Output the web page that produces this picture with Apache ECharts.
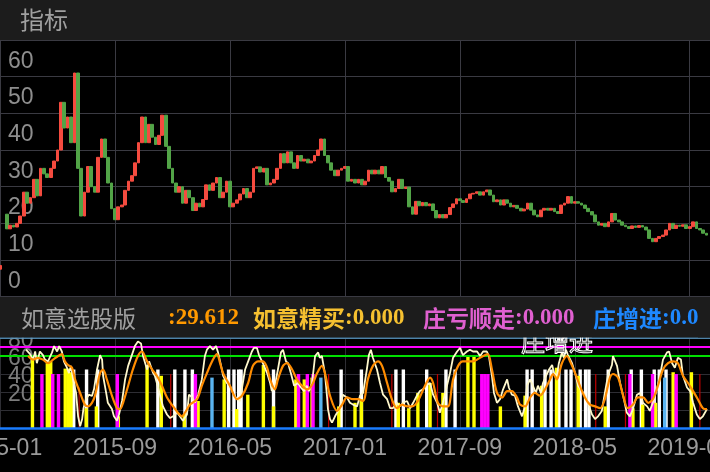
<!DOCTYPE html>
<html><head><meta charset="utf-8">
<script src="https://cdn.jsdelivr.net/npm/echarts@6/dist/echarts.min.js"></script>
<style>html,body{margin:0;padding:0;background:#000;}#c{width:710px;height:472px;}</style>
</head><body><div id="c"></div>
<script>
// ---- data ----
const tickLabels = ['2015-01','2015-09','2016-05','2017-01','2017-09','2018-05','2019-01'];
const tickStep = 34;          // categories between two date labels
const categoryCount = 211;
const earlyCandle = [7.5, 8.5, 7.5, 8.5];
const firstOpen = 22.5;
const startIndex = 2;
const closes = [
 18.5,19.5,19,20,22,28.5,25.5,27,32,27.5,
 35,33.5,32.5,35,37,40,53,46,49,42,
 61,35,22,28.5,35.5,30,28.5,38,43,38,
 31,24,21,24.5,25,29,31.5,33,36.5,42,
 49,42,47,43.5,41.5,44,49.5,41,35,31,
 28.5,30,25.5,29,27,23.5,25.5,24.5,26.5,30.5,
 29,31,32.5,27,28.5,31.5,24.5,25.5,26.4,28,
 29.5,27,28.5,35,35.4,34,35,30.5,31,32,
 35,39,36.5,39.5,36.5,35,38.5,37,37.5,36.5,
 37,38.5,40,43,38.5,36.5,34.5,33,34.5,35,
 35.5,31.5,32,31,32,30.5,31.5,34.5,33.5,34.5,
 33.5,35.5,32.5,31.5,28.6,29.5,32,29.5,29.9,24.5,
 22.5,26,24.8,25.7,24.8,25.3,23.5,21.5,22.4,21.5,
 22.4,24.3,25.3,26.7,26.2,25.7,26.7,28,28.2,28.6,
 27.7,28.6,29.1,27.7,25.9,26.4,25,26.4,25.5,24.5,
 24.9,24.1,23.4,23.9,25.5,23.6,22.3,21.8,23.6,24.1,
 23.6,24.1,23.2,22.7,25,25.5,27.3,25.5,25.9,25.5,
 25,24.1,23.2,22.3,20.4,19.5,20,19.1,20.4,22.7,
 20.9,20.4,19.5,19.1,18.6,19.3,18.9,19.4,19.0,18.2,
 15.9,15,15.9,16.4,16.8,18.2,20,18.6,19.5,19.2,
 19.6,18.6,19.1,20.4,18.6,18.2,17.3,16.8
];
const whiteLine = [[7.7,87],[8.9,82],[9.8,76],[10.4,85],[10.9,72],[11.8,85],[12.7,81],[13.3,76],[14.2,74],[15.4,84],[16,91],[16.9,85],[17.5,91],[18.3,85],[18.9,74],[19.8,67],[20.4,61],[21,69],[21.6,54],[22.5,39],[23.1,13],[23.7,2],[24.3,10],[24.7,22],[25.4,32],[26.3,37],[27.2,35.6],[27.8,43],[28.7,65],[29.6,81],[30.2,76],[30.5,58],[31.4,39],[31.9,28],[33.1,21],[33.7,13],[34.6,8],[35.2,15],[36.1,30],[37,54],[37.9,69],[39,81],[39.9,91],[40.8,96],[41.7,94],[42.3,80],[43.5,65],[44.1,74],[45.3,61],[45.8,58],[46.4,50],[47.3,37],[48.2,24],[49.4,15],[50.3,11],[51.2,13],[52.4,17],[53.2,13],[54.1,8],[55.3,15],[55.9,37],[56.8,34],[57.7,28],[58.6,37],[59.7,54],[60.6,80],[61.2,87],[62.1,91],[63,87],[63.9,91],[64.5,84],[65.4,69],[66,58],[67.1,50],[68,47],[68.9,39],[70.1,32],[71,30],[71.6,45],[72.5,65],[73.4,74],[74.5,85],[75.1,89],[76,89],[76.6,81],[77.5,74],[78.1,69],[79,61],[79.9,50],[80.4,41],[81.3,47],[82.2,65],[83.1,84],[83.7,87],[84.6,74],[85.2,72],[86.1,60],[87,47],[88.1,50],[89,45],[89.9,41],[90.8,47],[91.4,41],[92.3,50],[93.2,80],[94.1,84],[94.6,78],[95.2,80],[96.1,61],[96.7,36],[97,21],[97.6,10],[98.2,6],[99.1,13],[100,19],[100.9,28],[101.4,37],[102.6,34],[103.5,28],[104.4,26],[105.6,24],[106.5,36],[107.4,39],[108.5,65],[109.1,81],[109.7,87],[110.3,78],[111.5,65],[112.4,50],[113.3,37],[114.5,32],[115.4,22],[116.2,22],[117.4,28],[118.3,24],[119.2,28],[120.4,30],[121.3,22],[122.2,28],[123.3,36],[124.2,41],[125.1,43],[126.3,48],[127.2,50],[128.1,37],[129.3,28],[130.1,17],[131,28],[132.2,47],[133.1,61],[134,78],[135.2,85],[136.1,89],[136.9,81],[138.1,85],[139,87],[139.9,85],[141.1,85],[142,80],[142.9,85],[144,85],[144.6,80],[145.5,58],[146.1,39],[147,28],[147.9,32],[148.8,43],[150,54],[150.5,45],[151.4,37],[152.3,36],[153.2,24],[154.4,13],[155.3,24],[155.9,47],[156.8,54],[157.6,47],[158.5,39],[159.1,47],[160,39],[160.6,50],[161.5,58],[162.4,65],[163.3,70],[163.9,61],[164.7,58],[165.3,72],[166.2,84],[166.8,78],[167.4,87],[168,81],[169.2,72],[170.1,61],[171,47],[172.1,41],[173,37],[173.9,28],[175.1,15],[176,10],[176.9,13],[178,19],[178.9,39],[179.8,58],[181,70],[181.3,80],[182.5,69],[183.4,50],[184.3,36],[185.4,17],[186.3,13],[187.2,21],[188.4,37],[189.3,39],[190.2,28],[191.4,24],[192.2,19],[193.1,28],[194.3,43],[195.2,58],[196.1,76],[197.3,84],[197.9,85],[198.8,72],[199.6,67],[200.5,78],[201.4,76],[202,58],[203.2,45],[204.1,41],[205,28],[206.1,15],[207,10],[207.9,13],[209.1,21]];
const orangeLine = [[8.3,80],[9.8,76],[11.2,78],[12.7,76],[14.2,72],[15.7,76],[17.2,80],[18.3,82],[19.2,74],[20.1,70],[21.3,67],[22.2,54],[23.7,39],[25.1,26],[26,24],[27.2,28],[28.1,36],[29.6,61],[30.5,65],[31.6,54],[33.1,36],[34.6,22],[35.5,21],[36.4,28],[37.9,47],[39.3,65],[40.8,80],[42,85],[43.5,74],[45,65],[46.4,58],[47.9,47],[49.4,34],[51.2,24],[52.6,17],[53.8,13],[54.7,17],[56.2,26],[58.3,32],[59.7,47],[61.2,61],[63,76],[64.2,82],[65.1,72],[66,61],[68,47],[70.1,32],[71.6,36],[73.4,50],[74.8,69],[76.3,74],[77.8,74],[79,67],[79.9,54],[81.3,43],[82.2,54],[83.7,69],[84.9,72],[86.4,65],[87.8,54],[89.3,47],[90.8,43],[92.3,48],[93.8,61],[95.2,69],[96.1,61],[97.6,36],[99.7,19],[101.2,26],[102.6,34],[104.4,32],[105.9,32],[107.4,30],[108.8,54],[110.3,69],[111.8,74],[113,69],[114.5,50],[115.9,32],[117.4,22],[118.9,26],[120.4,24],[121.9,24],[123.6,30],[125.7,47],[127.2,56],[128.1,50],[129.5,28],[131,24],[132.5,24],[134,54],[135.5,69],[136.9,74],[138.4,74],[139.9,74],[141.1,76],[142.9,80],[144.3,82],[145.5,65],[147,39],[148.5,34],[150,41],[151.4,41],[152.9,34],[153.8,26],[155.3,24],[156.8,34],[158.2,39],[159.7,36],[161.2,43],[162.7,54],[163.6,60],[164.7,54],[166.2,72],[167.7,80],[168.6,74],[170.1,61],[171.5,47],[173,34],[174.5,26],[176,24],[177.5,22],[178.9,32],[180.4,56],[181.3,60],[182.8,56],[184.3,36],[185.7,22],[187.2,26],[188.7,34],[190.2,34],[191.7,28],[193.1,32],[194.6,47],[196.1,65],[197.6,72],[199.1,74],[200.5,72],[202,58],[203.5,50],[205,41],[206.4,32],[207.9,22],[209.1,21]];
const whiteBars = [[21.8,65],[25.6,65],[28.9,65],[46.7,65],[51.7,65],[54.7,65],[56.9,65],[67.6,65],[69.2,65],[70.6,65],[71.3,65],[80.9,65],[100.9,65],[106.9,65],[117.1,65],[119.3,65],[126.2,65],[131.9,65],[134.6,65],[155.9,65],[157.4,65],[161.2,65],[163,65],[165.3,65],[167.4,65],[168.9,65],[171.6,65],[173.2,65],[174.2,65],[179.9,65],[186.7,65],[189.7,65],[193.5,65],[195,65],[197,65]];
const yellowBars = [[9.6,76],[14,72],[15,74],[19.3,66],[20.2,66],[21,62],[25.5,22],[28.5,24],[35,13],[43.5,70],[47.7,58],[54.5,15],[58.6,30],[66.3,54],[70,21],[73.3,37],[77.9,70],[80.9,24],[87.5,54],[90,54],[92.3,56],[100.2,24],[105,28],[106.9,32],[117.8,28],[120.9,22],[123.6,39],[127.2,50],[131,39],[138.4,81],[140.2,80],[148,24],[155.3,36],[160.2,47],[164.6,67],[171,58],[179,24],[187.2,22],[190.1,26],[193.9,28],[199.1,62],[204.5,62]];
const magentaBars = [[12.4,60],[15.6,60],[17.3,60],[34.7,60],[57.8,60],[88.3,60],[90.9,60],[92.6,60],[142.5,60],[143.4,60],[144.3,60],[186.3,60],[193,60],[200,60]];
const skyBars = [[62.7,56],[94.9,56],[196.6,56]];
const redBars = [[23.4,45],[50.5,60],[97.2,60],[115.9,60],[129.4,60],[176.2,60],[185,60],[207,60]];
const levelLines = {top: 100, magenta: 90, green: 80, base: 0};

// ---- build ----
const categories = [];
for (let i = 0; i < categoryCount; i++) categories.push(i % tickStep === 0 ? tickLabels[i / tickStep] : '');
const candles = [];
for (let i = 0; i < categoryCount; i++) candles.push('-');
candles[0] = earlyCandle;
closes.forEach((c, k) => {
  const o = k === 0 ? firstOpen : closes[k - 1];
  candles[startIndex + k] = [o, c, Math.min(o, c), Math.max(o, c)];
});
const barItems = [];
whiteBars.forEach(d => barItems.push({value: d, itemStyle: {color: '#ffffff'}}));
yellowBars.forEach(d => barItems.push({value: d, itemStyle: {color: '#ffff00'}}));
magentaBars.forEach(d => barItems.push({value: d, itemStyle: {color: '#ff00ff'}}));
skyBars.forEach(d => barItems.push({value: d, itemStyle: {color: '#5ab4f0'}}));

const sans = 'Liberation Sans';
const cjk = "'Noto Sans CJK SC'";
const chart = echarts.init(document.getElementById('c'));
chart.setOption({
  backgroundColor: '#000',
  animation: false,
  grid: [
    {left: 0, right: 0, top: 40, height: 256.7, outerBoundsMode: 'none', containLabel: false},
    {left: 0, right: 0, top: 338, height: 90, outerBoundsMode: 'none', containLabel: false}
  ],
  xAxis: [
    {type: 'category', gridIndex: 0, data: categories, boundaryGap: false,
     axisLine: {show: false}, axisTick: {show: false}, axisLabel: {show: false},
     splitLine: {show: true, interval: (i) => i % tickStep === 0, lineStyle: {color: '#3a3a42', width: 1}}},
    {type: 'value', gridIndex: 1, min: 0, max: categoryCount - 1, interval: tickStep,
     axisLine: {show: false}, axisTick: {show: false},
     splitLine: {show: true, lineStyle: {color: '#2e2e34', width: 1}},
     axisLabel: {color: '#9a9a9a', fontSize: 23, fontFamily: sans, margin: 9, hideOverlap: false,
       formatter: v => (v % tickStep === 0 ? tickLabels[v / tickStep] : '')}},
    {type: 'value', gridIndex: 1, min: 0, max: categoryCount - 1, show: false}
  ],
  yAxis: [
    {type: 'value', gridIndex: 0, min: 0, max: 70, interval: 10,
     axisLine: {show: false}, axisTick: {show: false},
     splitLine: {lineStyle: {color: '#3a3a42', width: 1}},
     axisLabel: {inside: true, margin: 8, color: '#8e8e8e', fontSize: 23, fontFamily: sans,
       verticalAlign: 'bottom', padding: [0, 0, 4, 0], showMaxLabel: false}},
    {type: 'value', gridIndex: 1, min: 0, max: 100, interval: 20,
     axisLine: {show: false}, axisTick: {show: false},
     splitLine: {lineStyle: {color: '#2e2e34', width: 1}},
     axisLabel: {inside: true, margin: 8, color: '#7c7c7c', fontSize: 23, fontFamily: sans,
       verticalAlign: 'bottom', padding: [0, 0, 4, 0], showMaxLabel: false, showMinLabel: false}}
  ],
  series: [
    {type: 'candlestick', xAxisIndex: 0, yAxisIndex: 0, data: candles, barWidth: 3.2,
     itemStyle: {color: '#f54b3f', color0: '#52a447', borderColor: '#f54b3f', borderColor0: '#52a447', borderWidth: 1}},
    {type: 'bar', xAxisIndex: 1, yAxisIndex: 1, data: barItems, barWidth: 3.4, z: 3},
    {type: 'bar', xAxisIndex: 2, yAxisIndex: 1, data: redBars, barWidth: 1.2, itemStyle: {color: '#c00000'}, z: 3},
    {type: 'line', xAxisIndex: 1, yAxisIndex: 1, data: whiteLine, symbol: 'none', z: 5,
     lineStyle: {color: '#fff8cc', width: 1.8},
     markLine: {silent: true, symbol: 'none', label: {show: false},
       data: [
         {yAxis: levelLines.green, lineStyle: {color: '#00e000', width: 2, type: 'solid'}},
         {yAxis: levelLines.magenta, lineStyle: {color: '#ff00ff', width: 2, type: 'solid'}},
         {yAxis: levelLines.top, lineStyle: {color: '#5aa0d0', width: 1.5, type: 'solid'}},
         {yAxis: levelLines.base, lineStyle: {color: '#1a7cff', width: 2.5, type: 'solid'}}
       ]}},
    {type: 'line', xAxisIndex: 1, yAxisIndex: 1, data: orangeLine, symbol: 'none', z: 6, smooth: 0.3,
     lineStyle: {color: '#ff8c00', width: 2.2}}
  ],
  graphic: [
    {type: 'text', z: 50, style: {x: 521, y: 342, text: '庄增进', font: '24px ' + cjk, fill: 'rgba(0,0,0,0)', stroke: '#ffffff', lineWidth: 1, verticalAlign: 'middle'}},
    {type: 'rect', z: 100, shape: {x: 0, y: 0, width: 710, height: 40}, style: {fill: '#1c1c1c'}},
    {type: 'text', z: 101, style: {x: 20, y: 20, text: '指标', font: '24px ' + cjk, fill: '#a0a0a0', verticalAlign: 'middle'}},
    {type: 'rect', z: 100, shape: {x: 0, y: 297, width: 710, height: 40.5}, style: {fill: '#1c1c1c'}},
    {type: 'text', z: 101, style: {x: 21, y: 318, text: '如意选股版', font: '23px ' + cjk, fill: '#a0a0a0', verticalAlign: 'middle'}},
    {type: 'text', z: 101, style: {x: 168, y: 318, text: ':29.612', font: "bold 23px 'Liberation Serif'", fill: '#ff9900', verticalAlign: 'middle'}},
    {type: 'text', z: 101, style: {x: 253, y: 318, text: '{a|如意精买}{b|:0.000}', verticalAlign: 'middle',
      rich: {a: {font: 'bold 23px ' + cjk, fill: '#f5c030'}, b: {font: "bold 23px 'Liberation Serif'", fill: '#f5c030'}}}},
    {type: 'text', z: 101, style: {x: 423, y: 318, text: '{a|庄亏顺走}{b|:0.000}', verticalAlign: 'middle',
      rich: {a: {font: 'bold 23px ' + cjk, fill: '#e060d0'}, b: {font: "bold 23px 'Liberation Serif'", fill: '#e060d0'}}}},
    {type: 'text', z: 101, style: {x: 593, y: 318, text: '{a|庄增进}{b|:0.000}', verticalAlign: 'middle',
      rich: {a: {font: 'bold 23px ' + cjk, fill: '#1e88ff'}, b: {font: "bold 23px 'Liberation Serif'", fill: '#1e88ff'}}}},
    {type: 'rect', z: 102, shape: {x: 698, y: 297, width: 12, height: 40.5}, style: {fill: '#1c1c1c'}}
  ]
});
</script></body></html>
